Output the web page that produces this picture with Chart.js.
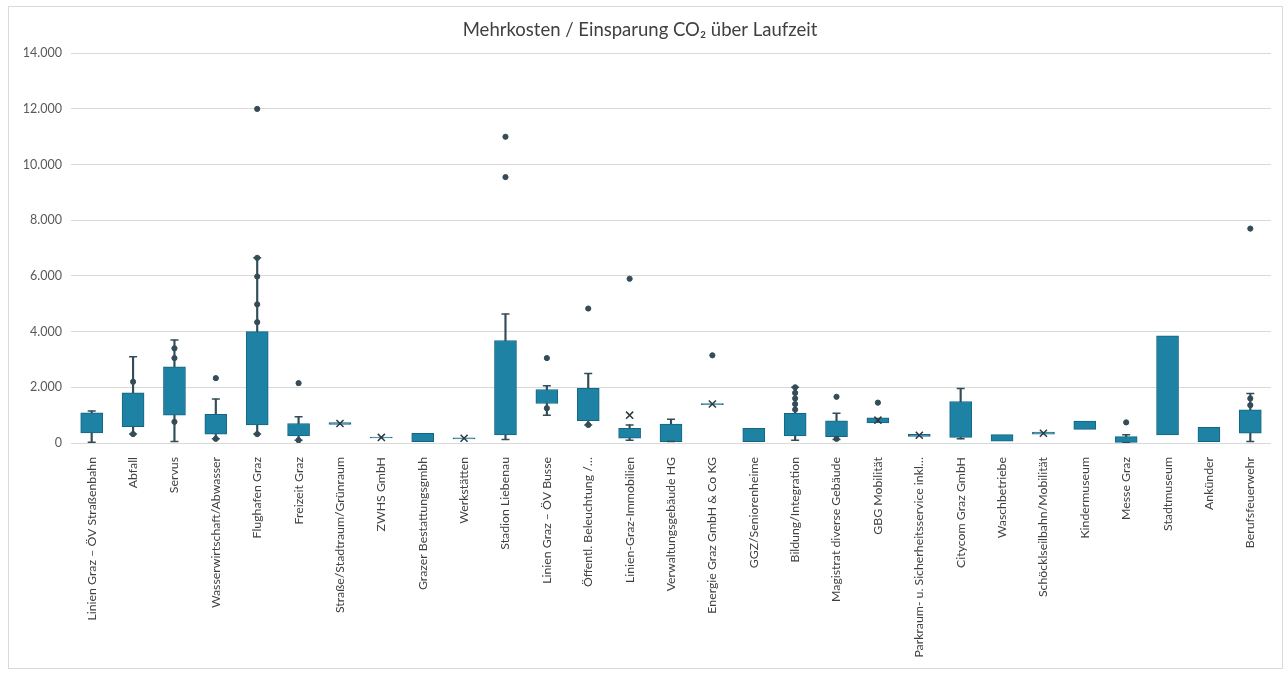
<!DOCTYPE html>
<html lang="de">
<head>
  <meta charset="UTF-8">
  <title>Mehrkosten / Einsparung CO2 über Laufzeit</title>
  <script src="https://cdn.jsdelivr.net/npm/chart.js"></script>
  <style>
    body { margin: 0; background: #fff; }
    #wrap { position: absolute; left: 8px; top: 6px; border: 1px solid #d9d9d9; }
    canvas { display: block; }
  </style>
</head>
<body>
<div id="wrap"><canvas id="boxChart" width="1273" height="661"></canvas></div>

<script>
const categories = [
  'Linien Graz – ÖV Straßenbahn', 'Abfall', 'Servus', 'Wasserwirtschaft/Abwasser', 'Flughafen Graz',
  'Freizeit Graz', 'Straße/Stadtraum/Grünraum', 'ZWHS GmbH', 'Grazer Bestattungsgmbh', 'Werkstätten',
  'Stadion Liebenau', 'Linien Graz – ÖV Busse', 'Öffentl. Beleuchtung /…', 'Linien-Graz-Immobilien',
  'Verwaltungsgebäude HG', 'Energie Graz GmbH & Co KG', 'GGZ/Seniorenheime', 'Bildung/Integration',
  'Magistrat diverse Gebäude', 'GBG Mobilität', 'Parkraum- u. Sicherheitsservice inkl…', 'Citycom Graz GmbH',
  'Waschbetriebe', 'Schöcklseilbahn/Mobilität', 'Kindermuseum', 'Messe Graz', 'Stadtmuseum', 'Ankünder',
  'Berufsfeuerwehr'
];

// box: lower / upper quartile
const q1 = [360, 590, 1000, 320, 650, 250, 670, 185, 50, 150, 290, 1420, 800, 170, 50, 1375, 50, 250, 230, 720, 240, 200, 70, 320, 490, 20, 290, 50, 350];
const q3 = [1080, 1800, 2740, 1030, 4000, 700, 730, 215, 350, 190, 3680, 1920, 1960, 530, 680, 1415, 530, 1070, 800, 900, 310, 1490, 300, 390, 790, 230, 3850, 560, 1190];

// whiskers (null = none visible)
const whiskerMin = [30, 320, 50, 150, 320, 100, null, null, null, null, 130, 1000, 650, 100, 50, null, null, 100, 130, null, null, 150, null, null, null, 10, null, null, 50];
const whiskerMax = [1150, 3100, 3700, 1580, 6650, 940, null, null, null, null, 4630, 2060, 2500, 650, 850, null, null, 2000, 1070, null, null, 1960, null, null, null, 300, null, null, 1780];

// mean markers (x)
const means = [null, null, null, null, null, null, 700, 200, null, 170, null, null, null, 1000, null, 1400, null, null, null, 820, 280, null, null, 350, null, null, null, null, null];

// single points / outliers per category
const points = [
  [], [2200, 320], [3400, 3050, 760], [2330, 150], [12000, 6650, 5980, 4980, 4340, 320],
  [2150, 100], [], [], [], [],
  [11000, 9550], [3050, 1250], [4830, 650], [5900],
  [], [3150], [], [2000, 1800, 1600, 1400, 1200],
  [1660, 150], [1450], [], [],
  [], [], [], [740], [], [],
  [7700, 1600, 1360]
];

const yTicks = [0, 2000, 4000, 6000, 8000, 10000, 12000, 14000];

const boxColor = '#1d82a4';
const boxBorder = '#156582';
const darkColor = '#334c57';
const fontFamily = 'Lato, "Open Sans", sans-serif';

const whiskerData = categories.map((c, i) => whiskerMin[i] == null ? null : [whiskerMin[i], whiskerMax[i]]);
const boxData = categories.map((c, i) => [q1[i], q3[i]]);
const pointData = [];
points.forEach((list, i) => list.forEach(v => pointData.push({ x: categories[i], y: v })));

new Chart(document.getElementById('boxChart'), {
  type: 'bar',
  data: {
    labels: categories,
    datasets: [
      { label: 'whisker', data: whiskerData, backgroundColor: darkColor, barThickness: 1.5, grouped: false, order: 5 },
      { label: 'box', data: boxData, backgroundColor: boxColor, borderColor: boxBorder, borderWidth: 1,
        borderSkipped: false, barThickness: 22, grouped: false, order: 4 },
      { type: 'line', label: 'max', data: whiskerMax, showLine: false, pointStyle: 'line', pointRadius: 4,
        borderColor: darkColor, borderWidth: 1.5, order: 3 },
      { type: 'line', label: 'min', data: whiskerMin, showLine: false, pointStyle: 'line', pointRadius: 4,
        borderColor: darkColor, borderWidth: 1.5, order: 3 },
      { type: 'line', label: 'points', data: pointData, showLine: false, pointStyle: 'circle', pointRadius: 2.6,
        backgroundColor: darkColor, borderColor: darkColor, borderWidth: 1, order: 1 },
      { type: 'line', label: 'mean', data: means, showLine: false, pointStyle: 'crossRot', pointRadius: 5,
        borderColor: '#2a3a40', borderWidth: 1.5, order: 0 }
    ]
  },
  options: {
    responsive: false,
    animation: false,
    layout: { padding: { left: 0, right: 11, top: 0, bottom: 0 } },
    plugins: {
      legend: { display: false },
      tooltip: { enabled: false },
      title: {
        display: true,
        text: 'Mehrkosten / Einsparung CO₂ über Laufzeit',
        color: '#404040',
        font: { family: fontFamily, size: 18.5, weight: 'normal' },
        padding: { top: 12, bottom: 12 }
      }
    },
    scales: {
      x: {
        offset: true,
        grid: { display: false },
        border: { display: false },
        ticks: {
          autoSkip: false, maxRotation: 90, minRotation: 90, padding: 6,
          color: '#404040', font: { family: fontFamily, size: 12.3 }
        },
        afterFit: s => { s.height = 225; }
      },
      y: {
        min: 0, max: 14000,
        afterBuildTicks: s => { s.ticks = yTicks.map(v => ({ value: v })); },
        grid: { color: '#d9d9d9', drawTicks: false },
        border: { display: false },
        ticks: {
          padding: 9, color: '#595959', font: { family: fontFamily, size: 12.5 },
          callback: v => v.toLocaleString('de-DE')
        },
        afterFit: s => { s.width = 62; }
      }
    }
  }
});
</script>
</body>
</html>
